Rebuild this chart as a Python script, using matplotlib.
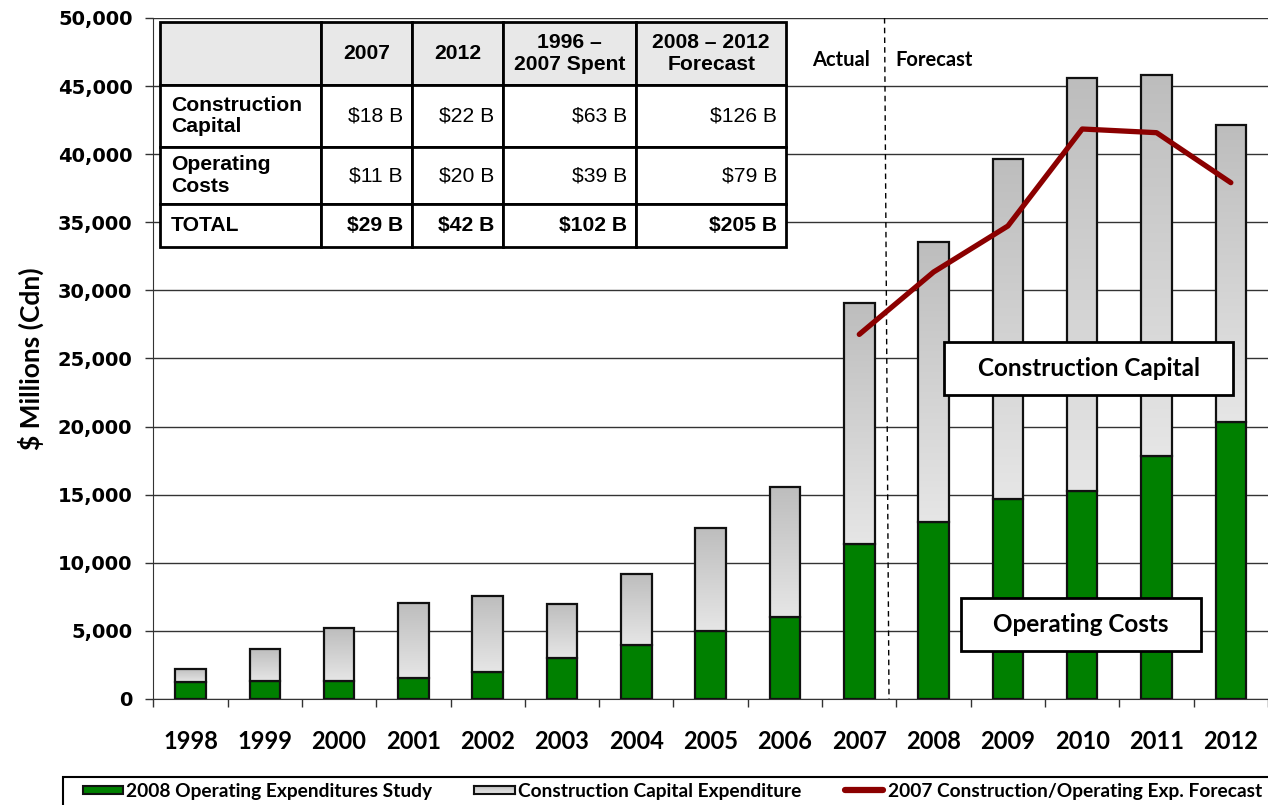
import matplotlib
matplotlib.use("Agg")
import matplotlib.pyplot as plt
import numpy as np
from matplotlib.table import Table
from matplotlib.patches import Rectangle
from matplotlib.lines import Line2D
from matplotlib.colors import LinearSegmentedColormap

# ---------------- data ----------------
years = ["1998", "1999", "2000", "2001", "2002", "2003", "2004", "2005",
         "2006", "2007", "2008", "2009", "2010", "2011", "2012"]
operating = [1250, 1300, 1345, 1565, 1960, 3010, 3940, 4970,
             6020, 11360, 13020, 14680, 15290, 17860, 20360]
total = [2220, 3650, 5190, 7050, 7590, 7000, 9180, 12560,
         15570, 29100, 33560, 39650, 45570, 45810, 42120]
construction = [t - o for t, o in zip(total, operating)]

forecast_years = ["2007", "2008", "2009", "2010", "2011", "2012"]
forecast_2007 = [26770, 31350, 34730, 41850, 41580, 37910]

table_header = ["", "2007", "2012", "1996 –\n2007 Spent", "2008 – 2012\nForecast"]
table_rows = [
    ["Construction\nCapital", "$18 B", "$22 B", "$63 B", "$126 B"],
    ["Operating\nCosts", "$11 B", "$20 B", "$39 B", "$79 B"],
    ["TOTAL", "$29 B", "$42 B", "$102 B", "$205 B"],
]

legend_labels = ["2008 Operating Expenditures Study",
                 "Construction Capital Expenditure",
                 "2007 Construction/Operating Exp. Forecast"]

# ---------------- figure ----------------
W, H = 1268, 805
fig = plt.figure(figsize=(W / 100, H / 100), dpi=100)
ax_l, ax_r, ax_t, ax_b = 153.3, 1268, 18, 699
ax = fig.add_axes([ax_l / W, 1 - ax_b / H, (ax_r - ax_l) / W, (ax_b - ax_t) / H])

x = np.arange(len(years))
bw = 0.41
green = "#008000"
edge = "#111111"

ax.bar(x, operating, width=bw, color=green, edgecolor=edge, linewidth=1.6, zorder=3)
cap_bars = ax.bar(x, construction, bottom=operating, width=bw, color="none",
                  edgecolor=edge, linewidth=1.6, zorder=3.2)

gcmap = LinearSegmentedColormap.from_list("g", ["#e6e6e6", "#bdbdbd"])
grad = np.linspace(0, 1, 256).reshape(-1, 1)
for p in cap_bars.patches:
    x0, y0 = p.get_x(), p.get_y()
    im = ax.imshow(grad, extent=[x0, x0 + p.get_width(), y0, y0 + p.get_height()],
                   origin="lower", aspect="auto", cmap=gcmap, zorder=3.1,
                   interpolation="bilinear")
    im.set_clip_path(p)

fx = [years.index(y) for y in forecast_years]
ax.plot(fx, forecast_2007, color="#8B0000", lw=3.8, solid_capstyle="round",
        solid_joinstyle="round", zorder=4)

# actual / forecast divider
ax.plot([9.34, 9.40], [50000, 0], color="black", lw=1.0, ls=(0, (4, 3)), zorder=2.5)
ax.text(8.76, 46900, "Actual", family="Lato", weight="bold", fontsize=14.5,
        ha="center", va="center", zorder=5)
ax.text(9.49, 46900, "Forecast", family="Lato", weight="bold", fontsize=14.5,
        ha="left", va="center", zorder=5)

ax.set_xlim(-0.5, len(years) - 0.5)
ax.set_ylim(0, 50000)
ax.set_yticks(np.arange(0, 50001, 5000))
ax.set_yticklabels([f"{v:,}" for v in range(0, 50001, 5000)],
                   family="DejaVu Sans", weight="bold", fontsize=14)
ax.set_xticks(np.arange(-0.5, len(years), 1.0))
ax.set_xticklabels([])
ax.set_xticks(x, minor=True)
ax.set_xticklabels(years, minor=True, family="Lato", weight="bold", fontsize=17)
ax.tick_params(axis="x", which="major", direction="out", length=6, width=1, color="#333333")
ax.tick_params(axis="x", which="minor", length=0, pad=22)
ax.tick_params(axis="y", direction="out", length=6, width=1, color="#333333", pad=9)
ax.yaxis.grid(True, color="#333333", lw=1.0, zorder=1)
ax.set_axisbelow(True)
for s in ["top", "right"]:
    ax.spines[s].set_visible(False)
ax.spines["left"].set_color("#333333")
ax.spines["bottom"].set_color("#333333")
ax.set_ylabel("$ Millions (Cdn)", family="Lato", weight="bold", fontsize=19, labelpad=10)

# annotation boxes
def px2x(px): return (px - ax_l) / (ax_r - ax_l) * len(years) - 0.5
def py2y(py): return (ax_b - py) / (ax_b - ax_t) * 50000

def label_box(x0, x1, y0, y1, text):
    r = Rectangle((px2x(x0), py2y(y1)), px2x(x1) - px2x(x0), py2y(y0) - py2y(y1),
                  facecolor="white", edgecolor="black", lw=2, zorder=6)
    ax.add_patch(r)
    ax.text((px2x(x0) + px2x(x1)) / 2, (py2y(y0) + py2y(y1)) / 2, text,
            family="Lato", weight="bold", fontsize=17.5, ha="center", va="center", zorder=7)

label_box(944.3, 1233.3, 341.7, 395, "Construction Capital")
label_box(960.7, 1201, 597.7, 651, "Operating Costs")

# ---------------- table ----------------
col_px = [160.4, 321, 412, 503, 636, 786.4]
row_px = [22, 85, 147, 204, 247.5]
def ax_x(px): return (px - ax_l) / (ax_r - ax_l)
def ax_y(py): return (ax_b - py) / (ax_b - ax_t)
tbl = Table(ax, bbox=[ax_x(col_px[0]), ax_y(row_px[-1]),
                      ax_x(col_px[-1]) - ax_x(col_px[0]),
                      ax_y(row_px[0]) - ax_y(row_px[-1])])
all_rows = [table_header] + table_rows
for r, row in enumerate(all_rows):
    for c, txt in enumerate(row):
        wpx = col_px[c + 1] - col_px[c]
        hpx = row_px[r + 1] - row_px[r]
        if r == 0:
            loc = "center"
        elif c == 0:
            loc = "left"
        else:
            loc = "right"
        cell = tbl.add_cell(r, c, width=wpx / 1000, height=hpx / 1000, text=txt, loc=loc,
                            facecolor="#e8e8e8" if r == 0 else "white",
                            edgecolor="black")
        cell.set_linewidth(2)
        cell.PAD = (10.5 if c == 0 else 9.0) / wpx
        t = cell.get_text()
        t.set_family("Liberation Sans")
        t.set_fontsize(15.2)
        t.set_linespacing(1.15)
        if r == 0 or c == 0 or r == len(all_rows) - 1:
            t.set_weight("bold")
tbl.auto_set_font_size(False)
tbl.set_zorder(8)
ax.add_table(tbl)

# ---------------- legend ----------------
def fx_(px): return px / W
def fy_(py): return 1 - py / H
fig.add_artist(Rectangle((fx_(63), fy_(810)), fx_(1300) - fx_(63), fy_(777) - fy_(810),
                         transform=fig.transFigure, facecolor="white",
                         edgecolor="black", lw=1.5, clip_on=False, zorder=-1))
fig.add_artist(Rectangle((fx_(82.5), fy_(794)), fx_(40), 8.5 / H, transform=fig.transFigure,
                         facecolor=green, edgecolor=edge, lw=1.5, zorder=2))
leg_grad_ax = fig.add_axes([fx_(473.5), fy_(794), fx_(41.5), 8.5 / H], zorder=3)
leg_grad_ax.imshow(grad, origin="lower", aspect="auto", cmap=gcmap, interpolation="bilinear")
leg_grad_ax.set_xticks([]); leg_grad_ax.set_yticks([])
for s in leg_grad_ax.spines.values():
    s.set_linewidth(1.5); s.set_color(edge)
fig.add_artist(Line2D([fx_(845), fx_(883)], [fy_(790), fy_(790)], transform=fig.transFigure,
                      color="#8B0000", lw=4.5, solid_capstyle="round", zorder=2))
for px, lab in zip([126, 518, 888], legend_labels):
    fig.text(fx_(px), fy_(791.5), lab, family="Lato", weight="bold", fontsize=13.8,
             ha="left", va="center", zorder=2)

fig.savefig("out.png", dpi=100)
